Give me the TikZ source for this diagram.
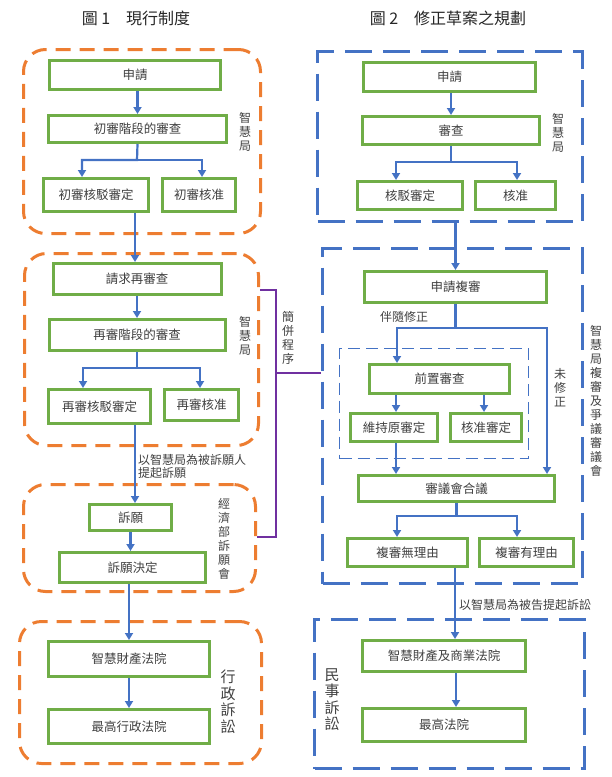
\documentclass[tikz,border=0pt]{standalone}
\usepackage{fontspec}
\setmainfont{Noto Sans CJK TC}
\usetikzlibrary{arrows.meta,calc}
\definecolor{gbox}{HTML}{70AD47}
\definecolor{obord}{HTML}{ED7D31}
\definecolor{bline}{HTML}{4472C4}
\definecolor{purp}{HTML}{7030A0}
\definecolor{txt}{HTML}{404040}
\begin{document}
\begin{tikzpicture}[x=1pt,y=-1pt,
  gb/.style={draw=gbox, line width=3pt, fill=white, text=txt, inner sep=0pt,
             font=\fontsize{12.5}{14}\selectfont},
  obox/.style={draw=obord, line width=3pt, rounded corners=22pt,
               dash pattern=on 15pt off 9pt, inner sep=0pt},
  bbox/.style={draw=bline, line width=3pt, dash pattern=on 27pt off 11pt, inner sep=0pt},
  ibox/.style={draw=bline, line width=1.5pt, dash pattern=on 12pt off 6pt, inner sep=0pt},
  arr/.style={draw=bline, line width=2.2pt, -{Triangle[length=7pt,width=8pt]}},
  brk/.style={draw=purp, line width=1.5pt},
  vt/.style={text=txt, align=center, inner sep=0pt, font=\fontsize{12}{14}\selectfont},
  vtb/.style={text=txt, align=center, inner sep=0pt, font=\fontsize{15}{16.5}\selectfont},
  lab/.style={text=txt, inner sep=0pt, font=\fontsize{12}{13}\selectfont},
  ttl/.style={text=black!85, inner sep=0pt, font=\fontsize{16}{18}\selectfont}]
\useasboundingbox (0,0) rectangle (611,777);

% titles
\node[ttl] (t1) at (136,18) {圖 1\quad 現行制度};
\node[ttl] (t2) at (448,18) {圖 2\quad 修正草案之規劃};

% orange groups (left)
\node[obox, minimum width=237pt, minimum height=184pt] (O1) at (142,141.5) {};
\node[obox, minimum width=234pt, minimum height=192pt] (O2) at (141.5,349.5) {};
\node[obox, minimum width=232pt, minimum height=107pt] (O3) at (139.5,538) {};
\node[obox, minimum width=242pt, minimum height=142pt] (O4) at (140.5,692.5) {};

% blue groups (right)
\node[bbox, minimum width=265pt, minimum height=170pt] (B1) at (450,136.5) {};
\node[bbox, minimum width=260pt, minimum height=335pt] (B2) at (452.5,416) {};
\node[bbox, minimum width=270pt, minimum height=149pt] (B3) at (449.5,694) {};
\node[ibox, minimum width=189pt, minimum height=110pt] (I) at (434,403.5) {};

% left boxes
\node[gb, minimum width=171pt, minimum height=29pt] (L1) at (135,75) {申請};
\node[gb, minimum width=178pt, minimum height=27pt] (L2) at (137.5,129) {初審階段的審查};
\node[gb, minimum width=105pt, minimum height=33pt] (L3) at (96,195) {初審核駁審定};
\node[gb, minimum width=73pt, minimum height=33pt] (L4) at (199,195) {初審核准};
\node[gb, minimum width=168pt, minimum height=31pt] (L5) at (137,279) {請求再審查};
\node[gb, minimum width=176pt, minimum height=31pt] (L6) at (137,335) {再審階段的審查};
\node[gb, minimum width=102pt, minimum height=34pt] (L7) at (99.5,406.5) {再審核駁審定};
\node[gb, minimum width=74pt, minimum height=31pt] (L8) at (201.5,405) {再審核准};
\node[gb, minimum width=82pt, minimum height=26pt] (L9) at (130.5,517.5) {訴願};
\node[gb, minimum width=146pt, minimum height=30pt] (L10) at (132.5,567.5) {訴願決定};
\node[gb, minimum width=161pt, minimum height=35pt] (L11) at (129,659) {智慧財產法院};
\node[gb, minimum width=161pt, minimum height=34pt] (L12) at (129,726.5) {最高行政法院};

% right boxes
\node[gb, minimum width=172pt, minimum height=29pt] (R1) at (449.5,77) {申請};
\node[gb, minimum width=177pt, minimum height=28pt] (R2) at (451,130.5) {審查};
\node[gb, minimum width=105pt, minimum height=28pt] (R3) at (410,195.5) {核駁審定};
\node[gb, minimum width=80pt, minimum height=28pt] (R4) at (515.5,195.5) {核准};
\node[gb, minimum width=182pt, minimum height=31pt] (R5) at (455.5,287) {申請複審};
\node[gb, minimum width=140pt, minimum height=29pt] (R6) at (439.5,379) {前置審查};
\node[gb, minimum width=87pt, minimum height=28pt] (R7) at (394,427.5) {維持原審定};
\node[gb, minimum width=71pt, minimum height=28pt] (R8) at (486,427.5) {核准審定};
\node[gb, minimum width=196pt, minimum height=26pt] (R9) at (456.5,488.5) {審議會合議};
\node[gb, minimum width=120pt, minimum height=28pt] (R10) at (407.5,552.5) {複審無理由};
\node[gb, minimum width=94pt, minimum height=28pt] (R11) at (526.5,552.5) {複審有理由};
\node[gb, minimum width=163pt, minimum height=31pt] (R12) at (444,656) {智慧財產及商業法院};
\node[gb, minimum width=163pt, minimum height=33pt] (R13) at (444,725) {最高法院};

% labels
\node[vt] (lz1) at (245,132) {智\\慧\\局};
\node[vt] (lz2) at (245,336) {智\\慧\\局};
\node[vt] (lec) at (224,538.5) {經\\濟\\部\\訴\\願\\會};
\node[vtb] (lad) at (228,701.5) {行\\政\\訴\\訟};
\node[vt] (ljb) at (288,338) {簡\\併\\程\\序};
\node[lab, align=left, anchor=west] (lsu) at (138,466.5) {以智慧局為被訴願人\\提起訴願};
\node[vt] (rz1) at (558,132.5) {智\\慧\\局};
\node[lab] (lbs) at (404,317) {伴隨修正};
\node[vt] (lwx) at (560,388) {未\\修\\正};
\node[vt] (lrv) at (596,401) {智\\慧\\局\\複\\審\\及\\爭\\議\\審\\議\\會};
\node[lab, anchor=west] (lsg) at (459,605) {以智慧局為被告提起訴訟};
\node[vtb] (lms) at (332,699.5) {民\\事\\訴\\訟};

% left connectors
\draw[arr] (L2.north |- L1.south) -- (L2.north);
\coordinate (jL1) at (137,160);
\coordinate (aL3) at ($(L3.north)+(-14,0)$);
\coordinate (aL4) at ($(L4.north)+(3,0)$);
\draw[arr] (L2.north |- L2.south) -- (jL1) -| (aL3);
\draw[arr] (jL1) -| (aL4);
\coordinate (sL3) at ($(L3.south)+(39,0)$);
\draw[arr] (sL3) -- (sL3 |- L5.north);
\draw[arr] (L5.south) -- (L6.north);
\coordinate (jL2) at (137,368);
\coordinate (aL7) at ($(L7.north)+(-16.5,0)$);
\coordinate (aL8) at ($(L8.north)+(-1.5,0)$);
\draw[arr] (L6.south) -- (jL2) -| (aL7);
\draw[arr] (jL2) -| (aL8);
\coordinate (sL7) at ($(L7.south)+(35.5,0)$);
\draw[arr] (sL7) -- (sL7 |- L9.north);
\draw[arr] (L9.south) -- (L9.south |- L10.north);
\draw[arr] (L11.north |- L10.south) -- (L11.north);
\draw[arr] (L11.south) -- (L12.north);

% right connectors
\draw[arr] (R2.north |- R1.south) -- (R2.north);
\coordinate (jR1) at (451,162);
\coordinate (aR3) at ($(R3.north)+(-14,0)$);
\coordinate (aR4) at ($(R4.north)+(1.5,0)$);
\draw[arr] (R2.south) -- (jR1) -| (aR3);
\draw[arr] (jR1) -| (aR4);
\draw[arr] (R5.north |- B1.south) -- (R5.north);
\coordinate (jR2) at (455.5,328);
\coordinate (aR6) at ($(R6.north)+(-42.5,0)$);
\coordinate (aR9) at ($(R9.north)+(90.5,0)$);
\draw[arr] (R5.south) -- (jR2) -| (aR6);
\draw[arr] (jR2) -| (aR9);
\coordinate (aR7) at ($(R7.north)+(2,0)$);
\coordinate (aR8) at ($(R8.north)+(-2,0)$);
\draw[arr] (aR7 |- R6.south) -- (aR7);
\draw[arr] (aR8 |- R6.south) -- (aR8);
\coordinate (sR7) at ($(R7.south)+(2,0)$);
\draw[arr] (sR7) -- (sR7 |- R9.north);
\coordinate (jR3) at (456.5,516);
\coordinate (aR10) at ($(R10.north)+(-10.5,0)$);
\coordinate (aR11) at ($(R11.north)+(-9.5,0)$);
\draw[arr] (R9.south) -- (jR3) -| (aR10);
\draw[arr] (jR3) -| (aR11);
\coordinate (sR10) at ($(R10.south)+(47.5,0)$);
\draw[arr] (sR10) -- (sR10 |- R12.north);
\coordinate (sR12) at ($(R12.south)+(12,0)$);
\draw[arr] (sR12) -- (sR12 |- R13.north);

% purple bracket (簡併程序)
\coordinate (pa) at (O2.east |- 0,290);
\coordinate (pb) at (O3.east |- 0,537);
\coordinate (pm) at (276,373);
\draw[brk] (pa) -| (pm) |- (pb);
\draw[brk] (pm) -- (pm -| B2.west);
\end{tikzpicture}
\end{document}
